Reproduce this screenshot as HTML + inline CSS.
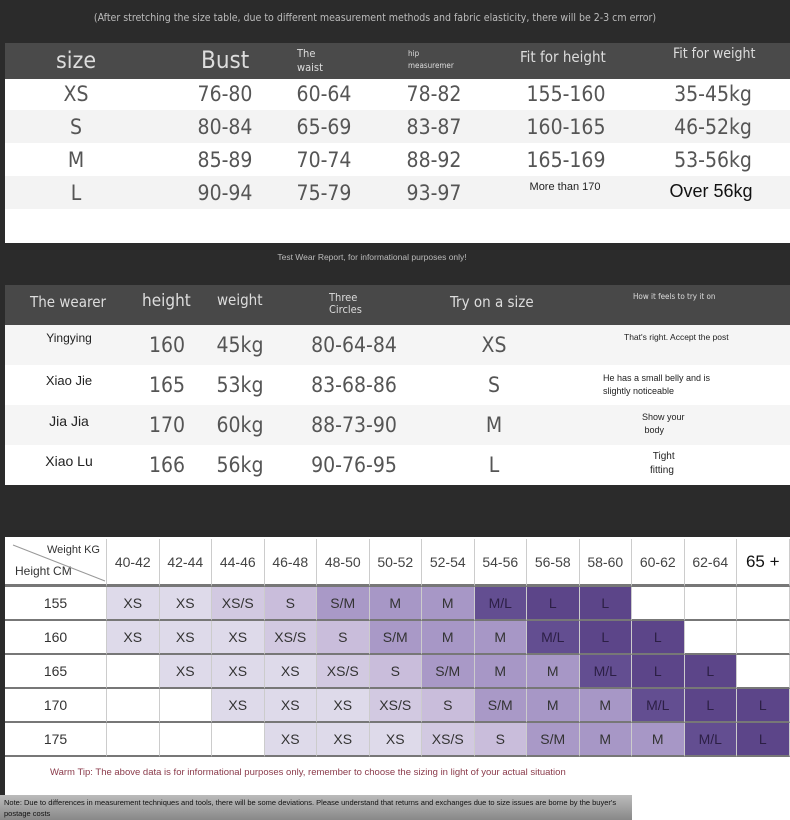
<!DOCTYPE html>
<html><head><meta charset="utf-8"><style>
*{margin:0;padding:0;box-sizing:border-box}
body{width:790px;height:820px;background:#2b2b2b;position:relative;overflow:hidden;font-family:"Liberation Sans",sans-serif;}
.a{position:absolute;white-space:nowrap}
.c{transform:translateX(-50%);text-align:center}
.n{font-family:"DejaVu Sans Condensed","Liberation Sans",sans-serif;color:#555;font-size:21px}
.h{color:#ddd;font-family:"DejaVu Sans Condensed","Liberation Sans",sans-serif}
.grid{position:absolute;left:5px;top:539px;width:785px;display:grid;grid-template-columns:102px repeat(13,52.5px);grid-template-rows:48px repeat(5,34px);background:#fff}
.grid div{display:flex;align-items:center;justify-content:center;font-size:14px;color:#333;border-right:1px solid #ccc;border-bottom:2px solid #777}
.grid .hd{font-size:14px;color:#444;border-bottom:3px solid #777}
.e{background:#fff}
.x{background:#dedaea}.xs{background:#d2c9e1}.s{background:#c9bddb}.sm{background:#a999c7}.m{background:#a797c6}.ml{background:#634e91;color:#2c1f45!important}.l{background:#5c4589;color:#2c1f45!important}
</style></head><body>
<div class="a c" style="left:375px;top:12px;font-size:10.5px;color:#bbb;font-family:'DejaVu Sans Condensed',sans-serif">(After stretching the size table, due to different measurement methods and fabric elasticity, there will be 2-3 cm error)</div>
<div class="a" style="left:5px;top:43px;width:785px;height:36px;background:#4a4a4a"></div>
<div class="a" style="left:5px;top:79px;width:785px;height:164px;background:#fff"></div>
<div class="a" style="left:5px;top:110px;width:785px;height:33px;background:#f3f3f3"></div>
<div class="a" style="left:5px;top:176px;width:785px;height:33px;background:#f3f3f3"></div>
<div class="a h" style="left:56px;top:48px;font-size:23px">size</div>
<div class="a h" style="left:201px;top:46px;font-size:24px">Bust</div>
<div class="a h" style="left:297px;top:47px;font-size:11px;line-height:14px">The<br>waist</div>
<div class="a h" style="left:408px;top:48px;font-size:8px;line-height:12px">hip<br>measuremer</div>
<div class="a h" style="left:520px;top:48px;font-size:15px">Fit for height</div>
<div class="a h" style="left:673px;top:46px;font-size:14px">Fit for weight</div>
<div class="a n c" style="left:76px;top:82px">XS</div><div class="a n c" style="left:225px;top:82px">76-80</div><div class="a n c" style="left:324px;top:82px">60-64</div><div class="a n c" style="left:434px;top:82px">78-82</div><div class="a n c" style="left:566px;top:82px">155-160</div><div class="a n c" style="left:713px;top:82px">35-45kg</div>
<div class="a n c" style="left:76px;top:115px">S</div><div class="a n c" style="left:225px;top:115px">80-84</div><div class="a n c" style="left:324px;top:115px">65-69</div><div class="a n c" style="left:434px;top:115px">83-87</div><div class="a n c" style="left:566px;top:115px">160-165</div><div class="a n c" style="left:713px;top:115px">46-52kg</div>
<div class="a n c" style="left:76px;top:148px">M</div><div class="a n c" style="left:225px;top:148px">85-89</div><div class="a n c" style="left:324px;top:148px">70-74</div><div class="a n c" style="left:434px;top:148px">88-92</div><div class="a n c" style="left:566px;top:148px">165-169</div><div class="a n c" style="left:713px;top:148px">53-56kg</div>
<div class="a n c" style="left:76px;top:181px">L</div><div class="a n c" style="left:225px;top:181px">90-94</div><div class="a n c" style="left:324px;top:181px">75-79</div><div class="a n c" style="left:434px;top:181px">93-97</div>
<div class="a c" style="left:565px;top:181px;font-size:11px;color:#222">More than 170</div>
<div class="a c" style="left:711px;top:181px;font-size:18px;color:#111">Over 56kg</div>

<div class="a c" style="left:372px;top:252px;font-size:8.5px;color:#bbb">Test Wear Report, for informational purposes only!</div>
<div class="a" style="left:5px;top:285px;width:785px;height:40px;background:#484848"></div>
<div class="a" style="left:5px;top:325px;width:785px;height:160px;background:#fff"></div>
<div class="a" style="left:5px;top:325px;width:785px;height:40px;background:#f5f5f5"></div>
<div class="a" style="left:5px;top:405px;width:785px;height:40px;background:#f5f5f5"></div>
<div class="a h" style="left:30px;top:293px;font-size:15px">The wearer</div>
<div class="a h" style="left:142px;top:291px;font-size:17px">height</div>
<div class="a h" style="left:217px;top:291px;font-size:15px">weight</div>
<div class="a h" style="left:329px;top:292px;font-size:11px;line-height:12px">Three<br>Circles</div>
<div class="a h" style="left:450px;top:293px;font-size:15px">Try on a size</div>
<div class="a h" style="left:633px;top:292px;font-size:8px">How it feels to try it on</div>
<div class="a c" style="left:69px;top:331px;font-size:12px;color:#222">Yingying</div>
<div class="a c" style="left:69px;top:373px;font-size:13px;color:#222">Xiao Jie</div>
<div class="a c" style="left:69px;top:413px;font-size:14px;color:#222">Jia Jia</div>
<div class="a c" style="left:69px;top:453px;font-size:14px;color:#222">Xiao Lu</div>
<div class="a n c" style="left:167px;top:333px">160</div><div class="a n c" style="left:240px;top:333px">45kg</div><div class="a n c" style="left:354px;top:333px">80-64-84</div><div class="a n c" style="left:494px;top:333px">XS</div>
<div class="a n c" style="left:167px;top:373px">165</div><div class="a n c" style="left:240px;top:373px">53kg</div><div class="a n c" style="left:354px;top:373px">83-68-86</div><div class="a n c" style="left:494px;top:373px">S</div>
<div class="a n c" style="left:167px;top:413px">170</div><div class="a n c" style="left:240px;top:413px">60kg</div><div class="a n c" style="left:354px;top:413px">88-73-90</div><div class="a n c" style="left:494px;top:413px">M</div>
<div class="a n c" style="left:167px;top:453px">166</div><div class="a n c" style="left:240px;top:453px">56kg</div><div class="a n c" style="left:354px;top:453px">90-76-95</div><div class="a n c" style="left:494px;top:453px">L</div>
<div class="a" style="left:624px;top:332px;font-size:8.5px;color:#222">That's right. Accept the post</div>
<div class="a" style="left:603px;top:372px;font-size:9px;line-height:13px;color:#222">He has a small belly and is<br>slightly noticeable</div>
<div class="a" style="left:642px;top:411px;font-size:9px;line-height:13px;color:#222">Show your<br>&nbsp;body</div>
<div class="a" style="left:650px;top:450px;font-size:10px;line-height:14px;color:#222">&nbsp;Tight<br>fitting</div>

<div class="a" style="left:5px;top:537px;width:785px;height:283px;background:#fff"></div>
<div class="grid">
<div class="hd" style="position:relative;display:block"><span style="position:absolute;left:42px;top:5px;font-size:11px;color:#333">Weight KG</span><span style="position:absolute;left:10px;top:25px;font-size:12px;color:#333">Height CM</span><svg style="position:absolute;left:0;top:0" width="102" height="46"><line x1="8" y1="6" x2="100" y2="42" stroke="#999" stroke-width="1"/></svg></div>
<div class="hd">40-42</div><div class="hd">42-44</div><div class="hd">44-46</div><div class="hd">46-48</div><div class="hd">48-50</div><div class="hd">50-52</div><div class="hd">52-54</div><div class="hd">54-56</div><div class="hd">56-58</div><div class="hd">58-60</div><div class="hd">60-62</div><div class="hd">62-64</div><div class="hd" style="font-size:17px;color:#111">65 +</div>
<div>155</div><div class="x">XS</div><div class="x">XS</div><div class="xs">XS/S</div><div class="s">S</div><div class="sm">S/M</div><div class="m">M</div><div class="m">M</div><div class="ml">M/L</div><div class="l">L</div><div class="l">L</div><div class="e"></div><div class="e"></div><div class="e"></div>
<div>160</div><div class="x">XS</div><div class="x">XS</div><div class="x">XS</div><div class="xs">XS/S</div><div class="s">S</div><div class="sm">S/M</div><div class="m">M</div><div class="m">M</div><div class="ml">M/L</div><div class="l">L</div><div class="l">L</div><div class="e"></div><div class="e"></div>
<div>165</div><div class="e"></div><div class="x">XS</div><div class="x">XS</div><div class="x">XS</div><div class="xs">XS/S</div><div class="s">S</div><div class="sm">S/M</div><div class="m">M</div><div class="m">M</div><div class="ml">M/L</div><div class="l">L</div><div class="l">L</div><div class="e"></div>
<div>170</div><div class="e"></div><div class="e"></div><div class="x">XS</div><div class="x">XS</div><div class="x">XS</div><div class="xs">XS/S</div><div class="s">S</div><div class="sm">S/M</div><div class="m">M</div><div class="m">M</div><div class="ml">M/L</div><div class="l">L</div><div class="l">L</div>
<div>175</div><div class="e"></div><div class="e"></div><div class="e"></div><div class="x">XS</div><div class="x">XS</div><div class="x">XS</div><div class="xs">XS/S</div><div class="s">S</div><div class="sm">S/M</div><div class="m">M</div><div class="m">M</div><div class="ml">M/L</div><div class="l">L</div>
</div>
<div class="a" style="left:50px;top:767px;font-size:9.5px;color:#8a3a4a">Warm Tip: The above data is for informational purposes only, remember to choose the sizing in light of your actual situation</div>
<div class="a" style="left:0;top:795px;width:632px;height:25px;background:linear-gradient(#bbb,#888)"></div>
<div class="a" style="left:4px;top:797px;font-size:7.5px;line-height:11px;color:#111">Note: Due to differences in measurement techniques and tools, there will be some deviations. Please understand that returns and exchanges due to size issues are borne by the buyer's<br>postage costs</div>
</body></html>
